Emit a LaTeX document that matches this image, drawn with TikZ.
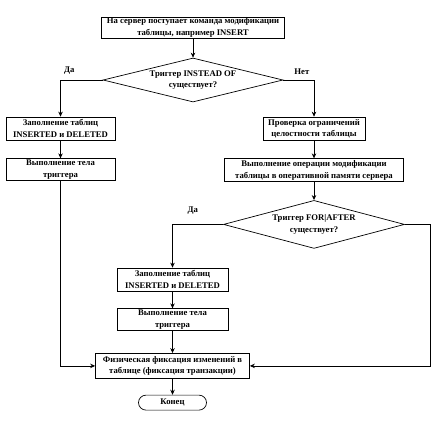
\documentclass[tikz,border=0pt]{standalone}
\usepackage{fontspec}
\setmainfont{Liberation Serif}
\usetikzlibrary{positioning,shapes.geometric,arrows.meta}

\begin{document}
\begin{tikzpicture}[x=1bp,y=-1bp,line width=0.7bp,
                    font=\fontsize{8.7}{11.5}\selectfont\bfseries,
                    act/.style={draw,align=center,inner sep=0pt,
                                minimum height=22bp},
                    ask/.style={draw,diamond,align=center,inner sep=0pt,
                                aspect=3.8},
                    stop/.style={draw,rounded corners=7.5bp,inner sep=0pt,
                                 minimum width=68bp,minimum height=15bp},
                    arr/.style={-{Stealth[length=5bp,width=4.5bp]}}]
  \useasboundingbox (0,0) rectangle (435,425);
  \node[act,minimum width=183bp,minimum height=21bp] (start) at (193,27.5)
    {На сервер поступает команда модификации\\таблицы, например INSERT};
  \node[ask,minimum width=180bp,minimum height=44bp] (q1) at (193,80)
    {Триггер INSTEAD OF\\существует?};
  % left branch: INSTEAD OF
  \node[act,minimum width=109bp,minimum height=23bp] (fill1) at (60.5,128.5)
    {Заполнение таблиц\\INSERTED и DELETED};
  \node[act,minimum width=109bp,below=18bp of fill1] (body1)
    {Выполнение тела\\триггера};
  % right branch
  \node[act,minimum width=102bp,minimum height=23bp] (check) at (314,128.5)
    {Проверка ограничений\\целостности таблицы};
  \node[act,minimum width=179bp,minimum height=23bp,below=18bp of check] (exec)
    {Выполнение операции модификации\\таблицы в оперативной памяти сервера};
  \node[ask,minimum width=181bp,minimum height=48bp,below=18bp of exec] (q2)
    {Триггер FOR|AFTER\\существует?};
  \node[act,minimum width=111bp,minimum height=23bp] (fill2) at (172.5,279.5)
    {Заполнение таблиц\\INSERTED и DELETED};
  \node[act,minimum width=111bp,below=17bp of fill2] (body2)
    {Выполнение тела\\триггера};
  \node[act,minimum width=154bp,minimum height=25bp,below=22bp of body2] (commit)
    {Физическая фиксация изменений в\\таблице (фиксация транзакции)};
  \node[stop,below=16bp of commit] (end) {Конец};
  \coordinate (bend) at (430,0);

  \draw[arr] (start) -- (q1);
  \draw[arr] (q1.west) -| node[pos=0.5,above right=2bp and 0bp] {Да} (fill1);
  \draw[arr] (q1.east) -| node[pos=0.5,above left=2bp and 1bp] {Нет} (check);
  \draw[arr] (fill1) -- (body1);
  \draw[arr] (body1) |- (commit);
  \draw[arr] (check) -- (exec);
  \draw[arr] (exec) -- (q2);
  \draw[arr] (q2.west) -| node[pos=0.3,above=6bp] {Да} (fill2);
  \draw[arr] (q2.east) -| (bend |- commit) -- (commit.east);
  \draw[arr] (fill2) -- (body2);
  \draw[arr] (body2) -- (commit);
  \draw[arr] (commit) -- (end);
\end{tikzpicture}
\end{document}
